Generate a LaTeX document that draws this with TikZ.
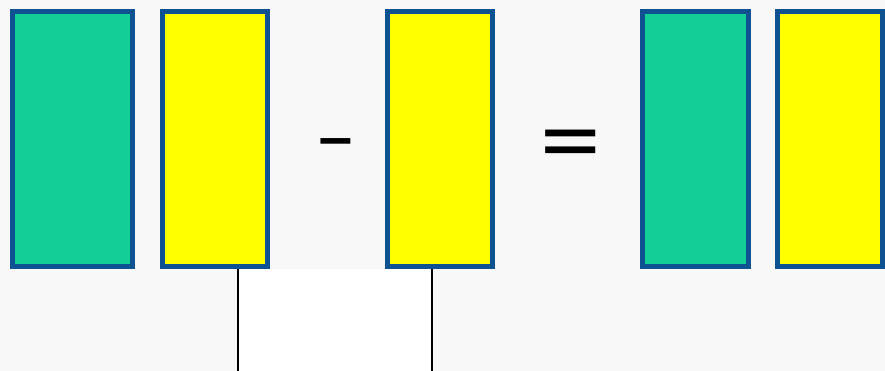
\documentclass[tikz,border=0pt]{standalone}
\usepackage{fontspec}
\setmainfont{Liberation Sans}
\definecolor{bggray}{RGB}{248,248,248}
\definecolor{edgeblue}{RGB}{14,82,145}
\definecolor{tilegreen}{RGB}{18,206,151}
\definecolor{tileyellow}{RGB}{255,255,0}
\begin{document}
\begin{tikzpicture}[x=0.75pt, y=-0.75pt]
        \tikzstyle{every node}=[rectangle, inner sep=0pt, draw=edgeblue, line width=3.75pt, minimum height=190.9pt]
        \tikzstyle{green tile}=[fill=tilegreen]
        \tikzstyle{yellow tile}=[fill=tileyellow]
        \tikzstyle{sign}=[draw=none, minimum height=0pt, anchor=base, font=\fontsize{54}{54}\selectfont]
        \useasboundingbox (0,0) rectangle (885,371);
        \fill[bggray] (0,0) rectangle (885,371);

        \node[green tile,  minimum width=90pt]   (g1) at (72.5,139.25)  {};
        \node[yellow tile, minimum width=78.75pt] (y1) at (215,139.25)   {};

        \node[sign] (minus) at (335.5,160.5) {\scalebox{1.7}[1]{-}};

        \node[yellow tile, minimum width=78.75pt] (y2) at (440,139.25)   {};

        \node[sign, font=\bfseries\fontsize{78}{78}\selectfont] (equals) at (570.5,162) {\scalebox{0.96}[0.6]{=}};

        \node[green tile,  minimum width=79.5pt]  (g2) at (695.5,139.25) {};
        \node[yellow tile, minimum width=78.75pt] (y3) at (830,139.25)   {};

        \coordinate (b1) at (238,371);
        \coordinate (b2) at (432,371);

        \fill[white] (b1 |- y1.south) rectangle (b2);
        \draw[line width=1.3pt] (b1 |- y1.south) -- (b1);
        \draw[line width=1.3pt] (b2 |- y2.south) -- (b2);
    \end{tikzpicture}
\end{document}
